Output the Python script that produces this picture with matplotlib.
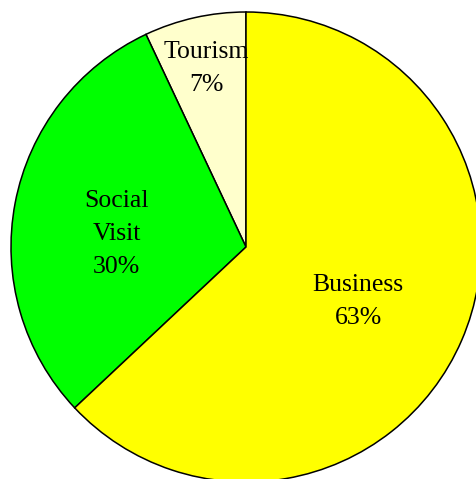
import numpy as np
import matplotlib
matplotlib.use("Agg")
import matplotlib.pyplot as plt

# Purpose of visit shares
labels = ["Tourism", "Social\nVisit", "Business"]
shares = [7, 30, 63]
colors = ["#FFFFCC", "#00FF00", "#FFFF00"]
label_radius = [0.78, 0.553, 0.53]
label_turn = [0, 5, -2.5]  # degrees off the wedge mid-angle

fig = plt.figure(figsize=(4.76, 4.79), dpi=100)
ax = fig.add_axes([11 / 476, -3 / 479, 470 / 476, 470 / 479])

wedges, _ = ax.pie(shares, colors=colors, startangle=90, counterclock=True,
                   radius=1.0, center=(0, 0),
                   wedgeprops=dict(edgecolor="black", linewidth=1.1))
for w in wedges:
    w.set_clip_on(False)

for w, lab, val, r, turn in zip(wedges, labels, shares, label_radius, label_turn):
    mid = np.deg2rad((w.theta1 + w.theta2) / 2 + turn)
    ax.text(r * np.cos(mid), r * np.sin(mid), f"{lab}\n{val}%",
            ha="center", va="center", fontsize=18.5, linespacing=1.65,
            family=["Liberation Serif", "DejaVu Serif"])

ax.set_xlim(-1, 1)
ax.set_ylim(-1, 1)
ax.set_aspect("equal")
ax.axis("off")

fig.savefig("out.png", dpi=100)
